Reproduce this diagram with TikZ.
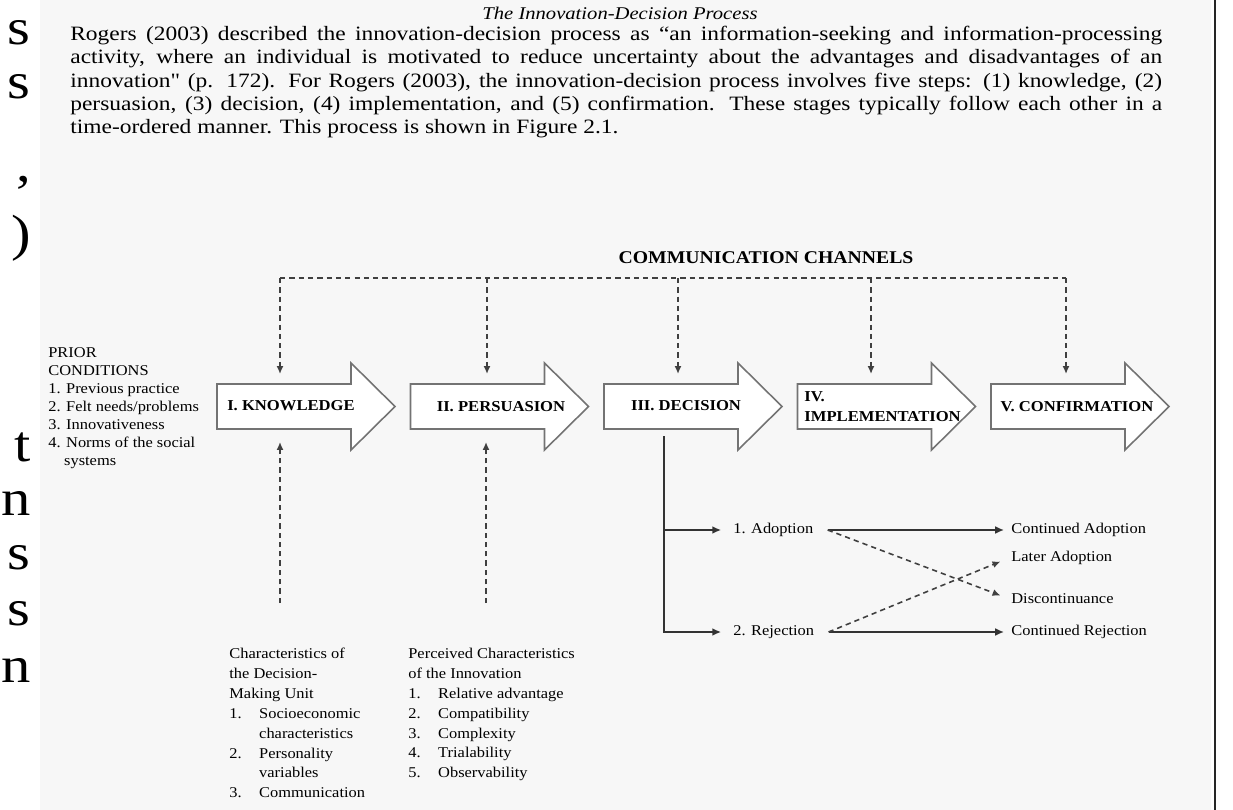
\documentclass[tikz,border=0pt]{standalone}
\usepackage{fontspec}
\setmainfont{Liberation Serif}
\newfontfamily\pagefont{Liberation Serif}[FakeStretch=1.15]
\newfontfamily\figfont{Liberation Serif}[FakeStretch=1.1]
\usetikzlibrary{arrows.meta,positioning}

\tikzset{
  stage/.style={draw=black!55, line width=0.9pt, fill=white},
  stagelabel/.style={font=\figfont\bfseries\fontsize{8.6}{11.4}\selectfont, inner sep=0pt, align=left},
  smalltext/.style={font=\figfont\fontsize{8.5}{10.3}\selectfont, inner sep=0pt, align=left},
  listtext/.style={smalltext, font=\figfont\fontsize{8.5}{11.3}\selectfont},
  chan/.style={black!75, line width=0.9pt, dash pattern=on 3pt off 2.3pt},
  chanarrow/.style={-{Latex[length=4.5pt,width=4pt]}},
  branch/.style={black!80, line width=0.9pt, -{Latex[length=5pt,width=4.5pt]}},
}

\begin{document}
\begin{tikzpicture}[x=0.02cm, y=-0.02cm]
\useasboundingbox (0,0) rectangle (1233,810);

% page strip and right edge of the page
\fill[black!3] (40,0) rectangle (1211,810);
\draw[line width=1.6pt, black!85] (1215,0) -- (1215,810);

% cut-off line ends of the facing page
\foreach \y/\c in {33/s, 87/s, 183/{,}, 238/), 447/t, 503/n, 558/s, 614/s, 670/n}
  \node[font=\pagefont\fontsize{29}{31}\selectfont, anchor=east, inner sep=0pt] (cut\y) at (31,\y) {\c};

% heading and paragraph
\node[font=\pagefont\itshape\fontsize{10.2}{12.8}\selectfont, inner sep=0pt] (head) at (620,13) {The Innovation-Decision Process};
\node[anchor=north west, inner sep=0pt, text width=21.84cm, align=justify,
      font=\pagefont\fontsize{11.6}{13.25}\selectfont] (para) at (70,26)
  {\tolerance=10000\hyphenpenalty=10000
   Rogers (2003) described the innovation-decision process as “an information-seeking and information-processing\linebreak
   activity, where an individual is motivated to reduce uncertainty about the advantages and disadvantages of an\linebreak
   innovation" (p. 172). For Rogers (2003), the innovation-decision process involves five steps: (1) knowledge, (2)\linebreak
   persuasion, (3) decision, (4) implementation, and (5) confirmation. These stages typically follow each other in a\linebreak
   time-ordered manner. This process is shown in Figure 2.1.};

% communication channels
\node[font=\figfont\bfseries\fontsize{10.2}{12}\selectfont, inner sep=0pt] (cc) at (766,258) {COMMUNICATION CHANNELS};
\foreach \n/\x in {1/280, 2/487, 3/678, 4/871, 5/1066} {
  \coordinate (ch\n) at (\x,278);
  \coordinate (st\n) at (\x,374);
}
\draw[chan] (ch1) -- (ch5);
\foreach \n in {1,...,5}
  \draw[chan, chanarrow] (ch\n) -- (st\n);

% the five stages
\foreach \x in {217, 410.5, 604, 797.5, 991}
  \draw[stage] (\x,384) -- ++(134,0) -- ++(0,-21) -- ++(44,43.5) -- ++(-44,43.5)
               -- ++(0,-21) -- ++(-134,0) -- cycle;
\node[stagelabel] (kn) at (291,406) {I. KNOWLEDGE};
\node[stagelabel] (pe) at (501,407) {II. PERSUASION};
\node[stagelabel] (de) at (686,406) {III. DECISION};
\node[stagelabel, anchor=west] (im) at (804,407) {IV.\\IMPLEMENTATION};
\node[stagelabel] (co) at (1077,407) {V. CONFIRMATION};

% prior conditions
\node[smalltext, anchor=north west] (prior) at (48,347)
  {PRIOR\\CONDITIONS\\1. Previous practice\\2. Felt needs/problems\\3. Innovativeness\\4. Norms of the social\\\hspace*{9pt}systems};

% characteristics feeding knowledge and persuasion
\node[listtext, anchor=north west] (dmu) at (229,648)
  {Characteristics of\\the Decision-\\Making Unit\\
   \makebox[17pt][l]{1.}Socioeconomic\\\hspace*{17pt}characteristics\\
   \makebox[17pt][l]{2.}Personality\\\hspace*{17pt}variables\\
   \makebox[17pt][l]{3.}Communication};
\node[listtext, anchor=north west] (pci) at (408,648)
  {Perceived Characteristics\\of the Innovation\\
   \makebox[17pt][l]{1.}Relative advantage\\\makebox[17pt][l]{2.}Compatibility\\
   \makebox[17pt][l]{3.}Complexity\\\makebox[17pt][l]{4.}Trialability\\
   \makebox[17pt][l]{5.}Observability};
\coordinate (dmu-up) at (280,603);
\coordinate (kn-foot) at (280,442);
\coordinate (pci-up) at (486,603);
\coordinate (pe-foot) at (486,442);
\draw[chan, chanarrow] (dmu-up) -- (kn-foot);
\draw[chan, chanarrow] (pci-up) -- (pe-foot);

% decision outcomes
\coordinate (de-foot) at (664,436);
\node[smalltext, anchor=west] (adopt) at (733,530) {1. Adoption};
\node[smalltext, anchor=west] (reject) at (733,632) {2. Rejection};
\node[smalltext, anchor=west] (contA) at (1011,530) {Continued Adoption};
\node[smalltext, anchor=west] (later) at (1011,558) {Later Adoption};
\node[smalltext, anchor=west] (discont) at (1011,599) {Discontinuance};
\node[smalltext, anchor=west] (contR) at (1011,632) {Continued Rejection};
\draw[branch] (de-foot) |- ([xshift=-6.8pt]adopt.west);
\draw[branch] (de-foot) |- ([xshift=-6.8pt]reject.west);
\draw[branch] ([xshift=8pt]adopt.east) -- ([xshift=-4pt]contA.west);
\draw[branch] ([xshift=8pt]reject.east) -- ([xshift=-4pt]contR.west);
\draw[chan, chanarrow] ([xshift=8pt]adopt.east) -- ([xshift=-6pt,yshift=2pt]discont.west);
\draw[chan, chanarrow] ([xshift=8pt]reject.east) -- ([xshift=-6pt,yshift=-2pt]later.west);
\end{tikzpicture}
\end{document}
